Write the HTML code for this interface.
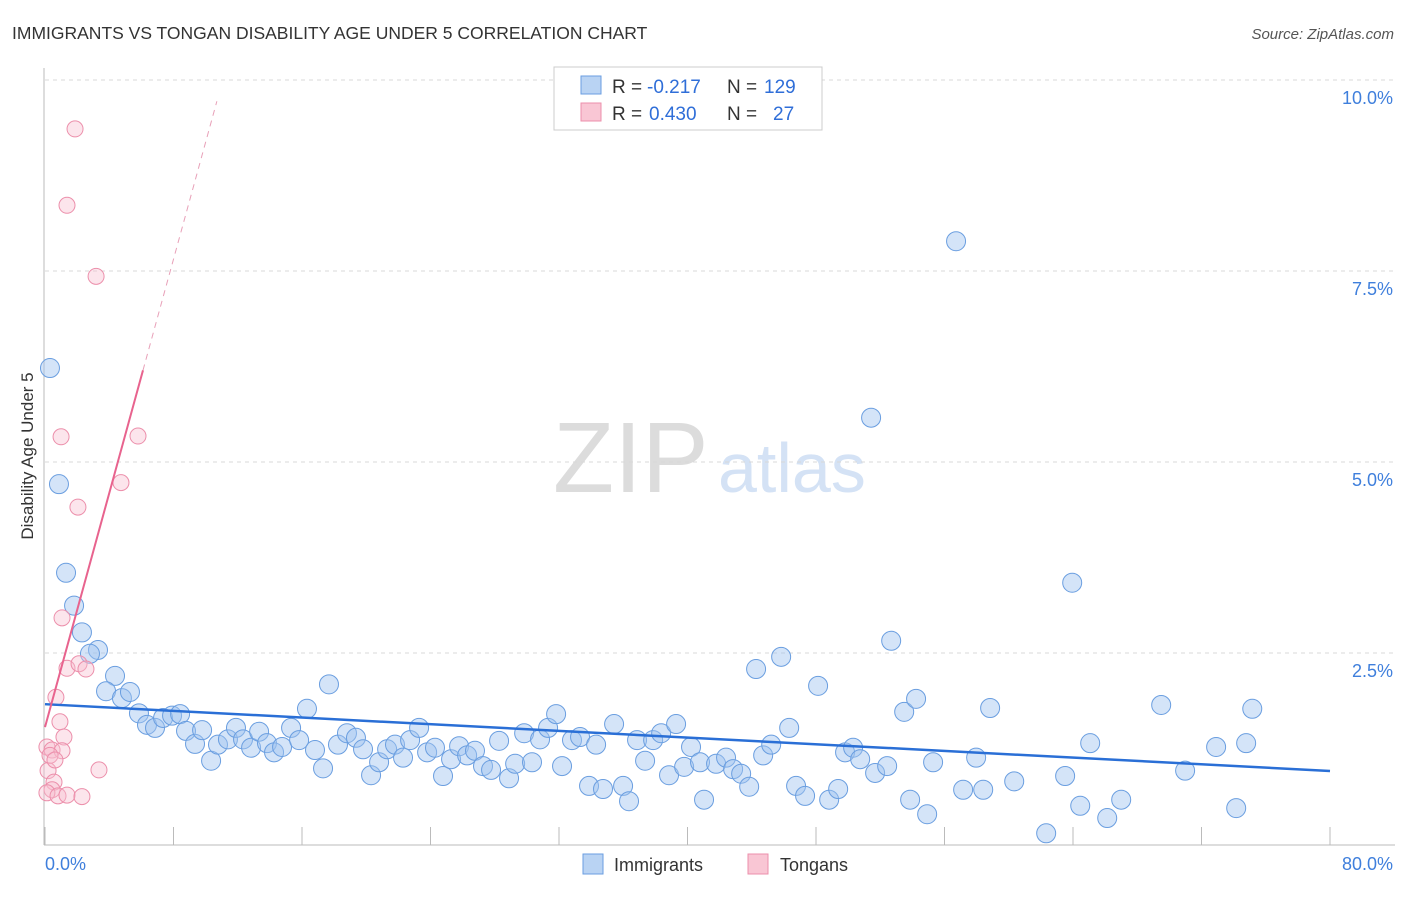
<!DOCTYPE html>
<html><head><meta charset="utf-8"><style>
body{margin:0;background:#fff;font-family:"Liberation Sans",sans-serif}
svg text{font-family:"Liberation Sans",sans-serif}
</style></head><body>
<svg id="c" width="1406" height="892" xmlns="http://www.w3.org/2000/svg">
<text x="12" y="39" font-size="17.5" fill="#333">IMMIGRANTS VS TONGAN DISABILITY AGE UNDER 5 CORRELATION CHART</text>
<text x="1394" y="39" font-size="15" fill="#555" font-style="italic" text-anchor="end">Source: ZipAtlas.com</text>
<text x="33" y="456" font-size="17" fill="#333" text-anchor="middle" transform="rotate(-90 33 456)">Disability Age Under 5</text>
<text x="553" y="492" font-size="100" fill="#dcdcdc" font-family="Liberation Serif">ZIP</text>
<text x="718" y="492" font-size="70" fill="#d4e2f5">atlas</text>
<g id="grid"></g><g id="axes"></g><g id="pts"></g><g id="trend"></g>
<g>
<rect x="554" y="67" width="268" height="63" fill="#fff" stroke="#ccc"/>
<rect x="581" y="76" width="20" height="18" fill="#b9d3f3" stroke="#6a9ee0"/>
<rect x="581" y="103" width="20" height="18" fill="#f9c6d4" stroke="#ec8fab"/>
<text x="612" y="93" font-size="19" fill="#333">R =</text>
<text x="647" y="93" font-size="19" fill="#2f6ed8">-0.217</text>
<text x="727" y="93" font-size="19" fill="#333">N =</text>
<text x="764" y="93" font-size="19" fill="#2f6ed8">129</text>
<text x="612" y="120" font-size="19" fill="#333">R =</text>
<text x="649" y="120" font-size="19" fill="#2f6ed8">0.430</text>
<text x="727" y="120" font-size="19" fill="#333">N =</text>
<text x="773" y="120" font-size="19" fill="#2f6ed8">27</text>
</g>
<g>
<rect x="583" y="854" width="20" height="20" fill="#b9d3f3" stroke="#6a9ee0"/>
<text x="614" y="871" font-size="18" fill="#333">Immigrants</text>
<rect x="748" y="854" width="20" height="20" fill="#f9c6d4" stroke="#ec8fab"/>
<text x="780" y="871" font-size="18" fill="#333">Tongans</text>
</g>
</svg>
<script>
const blueX=[0.31,0.87,1.31,1.81,2.30,3.30,2.80,4.36,3.80,4.79,5.29,5.85,6.35,6.85,7.35,7.91,8.41,8.78,9.34,9.78,10.34,10.77,11.39,11.89,12.33,12.83,13.33,13.82,14.26,14.76,15.32,15.82,16.31,16.81,17.31,17.68,18.24,18.80,19.36,19.80,20.30,20.80,21.30,21.79,22.29,22.73,23.29,23.79,24.28,24.78,25.28,25.78,26.28,26.77,27.27,27.77,28.27,28.89,29.27,29.83,30.32,30.82,31.32,31.82,32.19,32.81,33.31,33.87,34.31,34.74,35.43,35.99,36.36,36.86,37.36,37.86,38.36,38.85,39.29,39.79,40.22,41.03,40.78,41.78,42.40,42.84,43.34,43.84,44.27,44.71,45.21,45.83,46.33,46.76,47.32,48.13,48.82,49.38,49.81,50.31,50.75,51.43,51.68,52.43,52.68,53.49,53.86,54.23,54.92,55.29,56.72,57.16,57.97,58.41,58.84,60.34,62.33,63.51,63.95,64.45,65.07,66.13,67.00,69.49,70.98,72.91,74.16,74.78,75.16];
const blueY=[6.23,4.71,3.55,3.12,2.77,2.54,2.49,2.20,2.00,1.91,1.99,1.71,1.56,1.52,1.65,1.68,1.70,1.48,1.31,1.49,1.09,1.30,1.37,1.52,1.37,1.26,1.47,1.32,1.20,1.27,1.52,1.36,1.77,1.23,0.99,2.09,1.30,1.45,1.39,1.24,0.90,1.07,1.24,1.30,1.13,1.36,1.52,1.20,1.26,0.89,1.11,1.28,1.16,1.22,1.02,0.97,1.35,0.86,1.05,1.45,1.07,1.37,1.52,1.70,1.02,1.36,1.40,0.76,1.30,0.72,1.57,0.76,0.56,1.36,1.09,1.36,1.45,0.90,1.57,1.01,1.27,0.58,1.07,1.05,1.13,0.98,0.92,0.75,2.29,1.16,1.30,2.45,1.52,0.76,0.63,2.07,0.58,0.72,1.20,1.26,1.11,5.58,0.93,1.02,2.66,1.73,0.58,1.90,0.39,1.07,7.89,0.71,1.13,0.71,1.78,0.82,0.14,0.89,3.42,0.50,1.32,0.34,0.58,1.82,0.96,1.27,0.47,1.32,1.77];
const pinkX=[1.87,1.37,3.18,1.00,5.79,4.73,2.05,1.06,1.37,2.12,2.55,0.68,0.93,1.18,0.12,0.44,1.06,0.19,0.56,0.44,3.36,0.12,0.81,1.37,2.30,0.31,0.62];
const pinkY=[9.36,8.36,7.43,5.33,5.34,4.73,4.41,2.96,2.30,2.36,2.29,1.92,1.60,1.40,1.27,1.23,1.22,0.96,0.81,0.71,0.97,0.67,0.63,0.64,0.62,1.16,1.10];
const blueTrend=[1.83,0.956];
const pinkTrend=[1.53,6.20];
const pinkTrendEndX=6.1, pinkDashEndX=10.7;
const yTicks=[2.5,5.0,7.5,10.0];
const xTickLabels=["0.0%","80.0%"];
const X=v=>45+v/80*1285, Y=v=>844-v/10*764;
const NS="http://www.w3.org/2000/svg";
function mk(t,a,p){const e=document.createElementNS(NS,t);for(const k in a)e.setAttribute(k,a[k]);p.appendChild(e);return e;}
const grid=document.getElementById('grid'),axes=document.getElementById('axes'),pts=document.getElementById('pts'),tr=document.getElementById('trend');
yTicks.forEach(v=>{
 const l=mk('line',{x1:45,x2:1395,y1:Y(v),y2:Y(v),stroke:'#d8d8d8','stroke-dasharray':'4,4'},grid);
 
 
 const t=mk('text',{x:1393,y:Y(v)+24,'font-size':18,fill:'#3f7fdc','text-anchor':'end'},grid);
 t.textContent=v.toFixed(1)+'%';
 
 
});
const ax=mk('line',{x1:44,x2:44,y1:68,y2:845,stroke:'#bbb'},axes);


const bx=mk('line',{x1:44,x2:1395,y1:845,y2:845,stroke:'#bbb'},axes);


for(let i=0;i<=10;i++){
 const tk=mk('line',{x1:X(i*8),x2:X(i*8),y1:827,y2:845,stroke:'#bbb'},axes);
 
 
}
[[0,'start',45],[80,'end',1393]].forEach((d,i)=>{
 const t=mk('text',{x:d[2],y:870,'font-size':18,fill:'#3f7fdc','text-anchor':d[1]},axes);
 t.textContent=xTickLabels[i];
 
 
});
blueX.forEach((v,i)=>{
 const c=mk('circle',{cx:X(v),cy:Y(blueY[i]),r:9.5,fill:'rgba(160,196,240,0.45)',stroke:'#6a9ee0','stroke-width':1},pts);
 
 
});
pinkX.forEach((v,i)=>{
 const c=mk('circle',{cx:X(v),cy:Y(pinkY[i]),r:8,fill:'rgba(248,190,208,0.4)',stroke:'#ec8fab','stroke-width':1},pts);
 
 
});
const bl=mk('line',{x1:X(0),y1:Y(blueTrend[0]),x2:X(80),y2:Y(blueTrend[1]),stroke:'#2a6fd6','stroke-width':2.5},tr);


const slope=(pinkTrend[1]-pinkTrend[0])/pinkTrendEndX;
const pl=mk('line',{x1:X(0),y1:Y(pinkTrend[0]),x2:X(pinkTrendEndX),y2:Y(pinkTrend[1]),stroke:'#e8638e','stroke-width':2},tr);


const pd=mk('line',{x1:X(pinkTrendEndX),y1:Y(pinkTrend[1]),x2:X(pinkDashEndX),y2:Y(pinkTrend[0]+slope*pinkDashEndX),stroke:'#e8a0b8','stroke-width':1,'stroke-dasharray':'6,5'},tr);


</script>
</body></html>
